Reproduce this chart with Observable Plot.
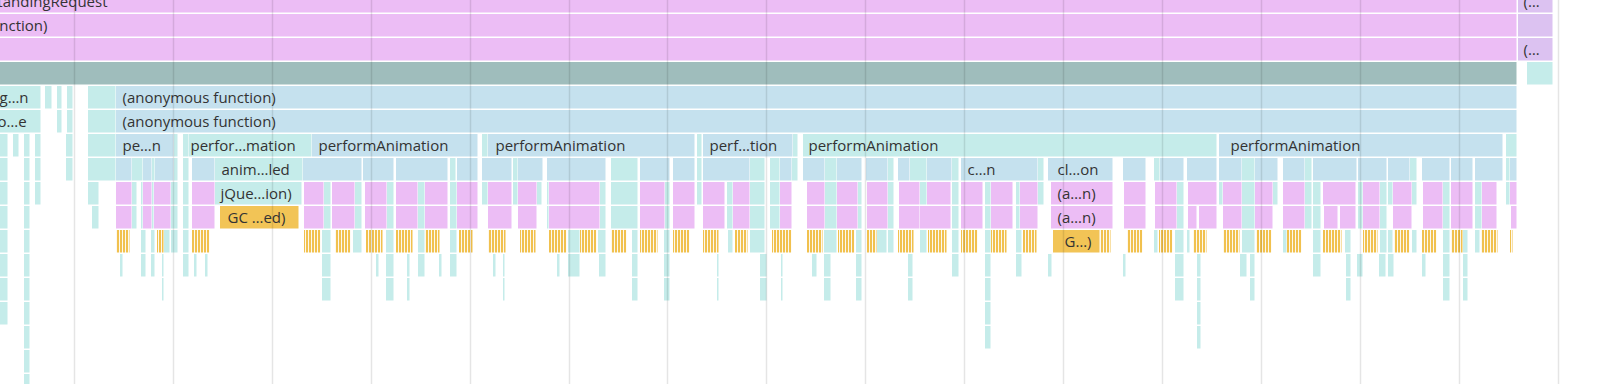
<!DOCTYPE html>
<html><head><meta charset="utf-8">
<script src="https://cdn.jsdelivr.net/npm/d3@7"></script>
<script src="https://cdn.jsdelivr.net/npm/@observablehq/plot@0.6"></script>
<style>html,body{margin:0;padding:0;background:#fff;overflow:hidden}</style>
</head><body><div id="chart"></div>
<script>
// Flame chart events: [start, end, kind] per depth row (time in screen units)
const row0 = [[-60,1517,"p"],[1518,1553,"l"]];
const row1 = [[-60,1517,"p"],[1518,1553,"l"]];
const row2 = [[-60,1517,"p"],[1518,1553,"l"]];
const row3 = [[-60,1517,"d"],[1527,1553,"c"]];
const row4 = [[-60,41,"c"],[45,52,"c"],[57,62,"c"],[67,73,"c"],[88,116,"c"],[116,1517,"b"]];
const row5 = [[-60,41,"c"],[57,62,"c"],[67,73,"c"],[88,116,"c"],[116,1517,"b"]];
const row6 = [[0,8,"c"],[13,19,"c"],[24,30,"c"],[35,41,"c"],[66,73,"c"],[88,116,"c"],[116,174,"b"],[174,178,"c"],[183,189,"c"],[189,312,"c"],[312,478,"b"],[482,488,"c"],[488,695,"b"],[697,702,"c"],[703,793,"b"],[793,798,"c"],[803,1217,"c"],[1219,1503,"b"],[1506,1517,"c"]];
const row7 = [[0,8,"c"],[24,30,"c"],[35,41,"c"],[66,73,"c"],[88,116,"c"],[116,132,"b"],[132,143,"c"],[143,152,"b"],[152,155,"c"],[155,174,"b"],[174,178,"c"],[183,189,"c"],[192,215,"b"],[215,303,"c"],[303,362,"b"],[363,394,"b"],[396,448,"b"],[450,456,"c"],[457,478,"b"],[482,512,"b"],[513,518,"c"],[518,543,"b"],[547,606,"b"],[611,638,"c"],[640,670,"b"],[673,695,"b"],[697,702,"c"],[703,750,"b"],[750,765,"c"],[770,780,"c"],[780,792,"b"],[792,798,"c"],[803,825,"b"],[825,837,"c"],[837,862,"b"],[866,888,"b"],[888,894,"c"],[898,910,"b"],[910,927,"c"],[927,952,"b"],[952,959,"c"],[961,1038,"b"],[1038,1044,"c"],[1048,1113,"b"],[1123,1146,"b"],[1154,1160,"c"],[1160,1184,"b"],[1187,1217,"b"],[1219,1242,"b"],[1242,1255,"c"],[1255,1278,"b"],[1283,1305,"b"],[1305,1312,"c"],[1313,1357,"b"],[1358,1387,"b"],[1388,1410,"b"],[1410,1417,"c"],[1422,1450,"b"],[1451,1473,"b"],[1475,1503,"b"],[1506,1510,"c"],[1510,1517,"b"]];
const row8 = [[0,8,"c"],[24,30,"c"],[35,41,"c"],[88,99,"c"],[116,132,"p"],[132,137,"c"],[141,143,"c"],[143,152,"p"],[152,154,"c"],[154,171,"p"],[171,178,"c"],[183,189,"c"],[192,215,"p"],[215,302,"c"],[304,324,"p"],[324,331,"c"],[332,355,"p"],[355,362,"c"],[365,387,"p"],[387,394,"c"],[396,418,"p"],[418,425,"c"],[425,448,"p"],[450,457,"c"],[457,478,"p"],[482,488,"c"],[488,512,"p"],[513,518,"c"],[518,537,"p"],[537,542,"c"],[547,549,"c"],[549,600,"p"],[600,606,"c"],[611,638,"c"],[640,665,"p"],[665,670,"c"],[673,695,"p"],[697,702,"c"],[703,725,"p"],[727,733,"c"],[733,750,"p"],[750,765,"c"],[770,780,"c"],[780,792,"p"],[807,825,"p"],[825,837,"c"],[837,858,"p"],[858,862,"c"],[867,888,"p"],[888,894,"c"],[899,920,"p"],[920,927,"c"],[927,951,"p"],[952,959,"c"],[961,983,"p"],[985,991,"c"],[991,1013,"p"],[1016,1020,"c"],[1020,1038,"p"],[1038,1044,"c"],[1051,1113,"p"],[1124,1146,"p"],[1155,1177,"p"],[1177,1184,"c"],[1188,1217,"p"],[1219,1223,"c"],[1223,1242,"p"],[1242,1255,"c"],[1255,1273,"p"],[1273,1278,"c"],[1283,1305,"p"],[1305,1312,"c"],[1313,1321,"c"],[1323,1356,"p"],[1358,1363,"c"],[1363,1380,"p"],[1380,1387,"c"],[1388,1393,"c"],[1393,1412,"p"],[1412,1417,"c"],[1423,1443,"p"],[1443,1450,"c"],[1451,1473,"p"],[1475,1482,"c"],[1482,1497,"p"],[1506,1510,"c"],[1510,1517,"p"]];
const row9 = [[0,8,"c"],[24,30,"c"],[92,99,"c"],[116,132,"p"],[132,137,"c"],[141,143,"c"],[143,152,"p"],[152,154,"c"],[154,171,"p"],[171,178,"c"],[183,189,"c"],[192,215,"p"],[220,299,"y"],[304,324,"p"],[324,331,"c"],[332,355,"p"],[355,362,"c"],[365,387,"p"],[387,394,"c"],[396,418,"p"],[418,425,"c"],[425,448,"p"],[450,457,"c"],[457,478,"p"],[488,512,"p"],[518,537,"p"],[547,549,"c"],[549,600,"p"],[600,606,"c"],[611,638,"c"],[640,665,"p"],[665,670,"c"],[673,695,"p"],[703,725,"p"],[727,733,"c"],[733,750,"p"],[750,765,"c"],[770,780,"c"],[780,792,"p"],[807,825,"p"],[825,837,"c"],[837,858,"p"],[858,862,"c"],[867,888,"p"],[888,894,"c"],[899,920,"p"],[920,951,"p"],[952,959,"c"],[961,983,"p"],[985,991,"c"],[991,1013,"p"],[1016,1020,"c"],[1020,1038,"p"],[1051,1113,"p"],[1124,1146,"p"],[1155,1177,"p"],[1177,1184,"c"],[1188,1197,"p"],[1199,1217,"p"],[1223,1242,"p"],[1242,1255,"c"],[1255,1273,"p"],[1283,1305,"p"],[1305,1312,"c"],[1313,1321,"c"],[1324,1338,"p"],[1340,1356,"p"],[1358,1363,"c"],[1363,1380,"p"],[1380,1387,"c"],[1393,1412,"p"],[1423,1443,"p"],[1443,1450,"c"],[1451,1473,"p"],[1475,1482,"c"],[1482,1497,"p"],[1511,1517,"p"]];
const row10 = [[0,8,"c"],[24,30,"c"],[116,130,"s"],[141,146,"c"],[151,155,"c"],[157,164,"s"],[164,170,"c"],[171,178,"c"],[183,189,"c"],[192,210,"s"],[304,321,"s"],[322,331,"c"],[335,351,"s"],[353,362,"c"],[366,383,"s"],[386,394,"c"],[396,413,"s"],[418,425,"c"],[425,440,"s"],[450,457,"c"],[459,473,"s"],[488,506,"s"],[520,536,"s"],[549,567,"s"],[568,580,"c"],[580,597,"s"],[598,606,"c"],[611,627,"s"],[632,638,"c"],[640,658,"s"],[664,670,"c"],[673,690,"s"],[703,719,"s"],[728,733,"c"],[735,748,"s"],[750,765,"c"],[772,792,"s"],[807,823,"s"],[824,837,"c"],[838,855,"s"],[856,862,"c"],[867,877,"s"],[877,887,"c"],[888,894,"c"],[898,914,"s"],[920,927,"c"],[928,947,"s"],[952,959,"c"],[961,978,"s"],[985,991,"c"],[991,1007,"s"],[1016,1022,"c"],[1023,1037,"s"],[1053,1100,"y"],[1100,1111,"s"],[1127,1143,"s"],[1154,1158,"c"],[1159,1173,"s"],[1175,1184,"c"],[1187,1190,"c"],[1193,1207,"s"],[1223,1240,"s"],[1242,1255,"c"],[1256,1272,"s"],[1283,1287,"c"],[1287,1302,"s"],[1313,1321,"c"],[1323,1342,"s"],[1345,1351,"c"],[1363,1378,"s"],[1380,1387,"c"],[1388,1393,"c"],[1394,1410,"s"],[1412,1417,"c"],[1422,1437,"s"],[1443,1450,"c"],[1451,1463,"s"],[1463,1468,"c"],[1475,1480,"c"],[1481,1498,"s"],[1510,1513,"s"]];
const row11 = [[0,8,"c"],[24,30,"c"],[120,123,"c"],[141,146,"c"],[151,155,"c"],[162,164,"c"],[183,189,"c"],[194,197,"c"],[205,208,"c"],[322,331,"c"],[376,379,"c"],[386,394,"c"],[407,410,"c"],[418,425,"c"],[439,442,"c"],[450,457,"c"],[493,496,"c"],[503,505,"c"],[557,560,"c"],[568,580,"c"],[599,606,"c"],[632,638,"c"],[664,670,"c"],[717,719,"c"],[760,767,"c"],[781,783,"c"],[812,817,"c"],[824,831,"c"],[856,862,"c"],[908,913,"c"],[952,959,"c"],[985,991,"c"],[1016,1022,"c"],[1048,1052,"c"],[1123,1126,"c"],[1175,1184,"c"],[1197,1201,"c"],[1240,1247,"c"],[1250,1255,"c"],[1313,1321,"c"],[1346,1351,"c"],[1357,1363,"c"],[1379,1386,"c"],[1388,1394,"c"],[1422,1426,"c"],[1443,1450,"c"],[1463,1468,"c"]];
const row12 = [[0,8,"c"],[24,30,"c"],[162,164,"c"],[322,331,"c"],[386,394,"c"],[407,410,"c"],[503,505,"c"],[632,638,"c"],[664,670,"c"],[717,719,"c"],[760,767,"c"],[781,783,"c"],[824,831,"c"],[856,862,"c"],[908,913,"c"],[985,991,"c"],[1175,1184,"c"],[1197,1201,"c"],[1250,1255,"c"],[1346,1351,"c"],[1443,1450,"c"],[1463,1468,"c"]];
const row13 = [[0,8,"c"],[24,30,"c"],[985,991,"c"],[1197,1201,"c"]];
const row14 = [[24,30,"c"],[985,991,"c"],[1197,1201,"c"]];
const row15 = [[24,30,"c"]];
const row16 = [[24,30,"c"]];

const labels = [
  {row:0, x:107, text:"completeOutstandingRequest", anchor:"end"},
  {row:0, x:1523, text:"(…", anchor:"start"},
  {row:1, x:47, text:"(anonymous function)", anchor:"end"},
  {row:2, x:1523, text:"(…", anchor:"start"},
  {row:4, x:-1, text:"g…n", anchor:"start"},
  {row:5, x:-3, text:"o…e", anchor:"start"},
  {row:4, x:122, text:"(anonymous function)", anchor:"start"},
  {row:5, x:122, text:"(anonymous function)", anchor:"start"},
  {row:6, x:122, text:"pe…n", anchor:"start"},
  {row:6, x:190, text:"perfor…mation", anchor:"start"},
  {row:6, x:318, text:"performAnimation", anchor:"start"},
  {row:6, x:495, text:"performAnimation", anchor:"start"},
  {row:6, x:709, text:"perf…tion", anchor:"start"},
  {row:6, x:808, text:"performAnimation", anchor:"start"},
  {row:6, x:1230, text:"performAnimation", anchor:"start"},
  {row:7, x:221, text:"anim…led", anchor:"start"},
  {row:7, x:967, text:"c…n", anchor:"start"},
  {row:7, x:1057, text:"cl…on", anchor:"start"},
  {row:8, x:220, text:"jQue…ion)", anchor:"start"},
  {row:8, x:1057, text:"(a…n)", anchor:"start"},
  {row:9, x:227, text:"GC …ed)", anchor:"start"},
  {row:9, x:1057, text:"(a…n)", anchor:"start"},
  {row:10, x:1064, text:"G…)", anchor:"start"}
];

const gridTicks = [74,173,272,371,470,569,667,766,865,964,1063,1162,1261,1360,1459,1558];

const palette = {p:"#ecbdf5", l:"#dcc2f1", d:"#9fbdbc", b:"#c5e1ee", c:"#c5ecea", y:"#f2c456", s:"url(#stripes)"};

const rowsAll = [row0,row1,row2,row3,row4,row5,row6,row7,row8,row9,row10,row11,row12,row13,row14,row15,row16];
const events = rowsAll.flatMap((r, depth) => r.map(([s, e, k]) => ({depth, start:s, end:e, kind:k})));

const chart = Plot.plot({
  width: 1600, height: 384, margin: 0,
  style: {fontFamily: "'Open Sans', sans-serif", background: "#fff"},
  x: {domain: [0, 1600], axis: null},
  y: {domain: [10/24, 394/24], reverse: true, axis: null},
  color: {type: "identity"},
  marks: [
    Plot.rect(events, {x1: "start", x2: "end", y1: "depth", y2: d => d.depth + 1,
      fill: d => palette[d.kind], insetBottom: 1.5, insetRight: 0.5}),
    Plot.text(labels.filter(d => d.anchor === "start"), {x: "x", y: d => d.row + 0.47, text: "text",
      textAnchor: "start", fontSize: 15, fill: "#333"}),
    Plot.text(labels.filter(d => d.anchor === "end"), {x: "x", y: d => d.row + 0.47, text: "text",
      textAnchor: "end", fontSize: 15, fill: "#333"}),
    Plot.ruleX(gridTicks, {stroke: "#000", strokeOpacity: 0.1, strokeWidth: 1.5})
  ]
});

const defs = document.createElementNS("http://www.w3.org/2000/svg", "defs");
defs.innerHTML = '<pattern id="stripes" patternUnits="userSpaceOnUse" width="3" height="24"><rect width="3" height="24" fill="#ffffff"/><rect width="2.1" height="24" fill="#f1c14e"/></pattern>';
chart.insertBefore(defs, chart.firstChild);
document.getElementById("chart").append(chart);
</script>
</body></html>
